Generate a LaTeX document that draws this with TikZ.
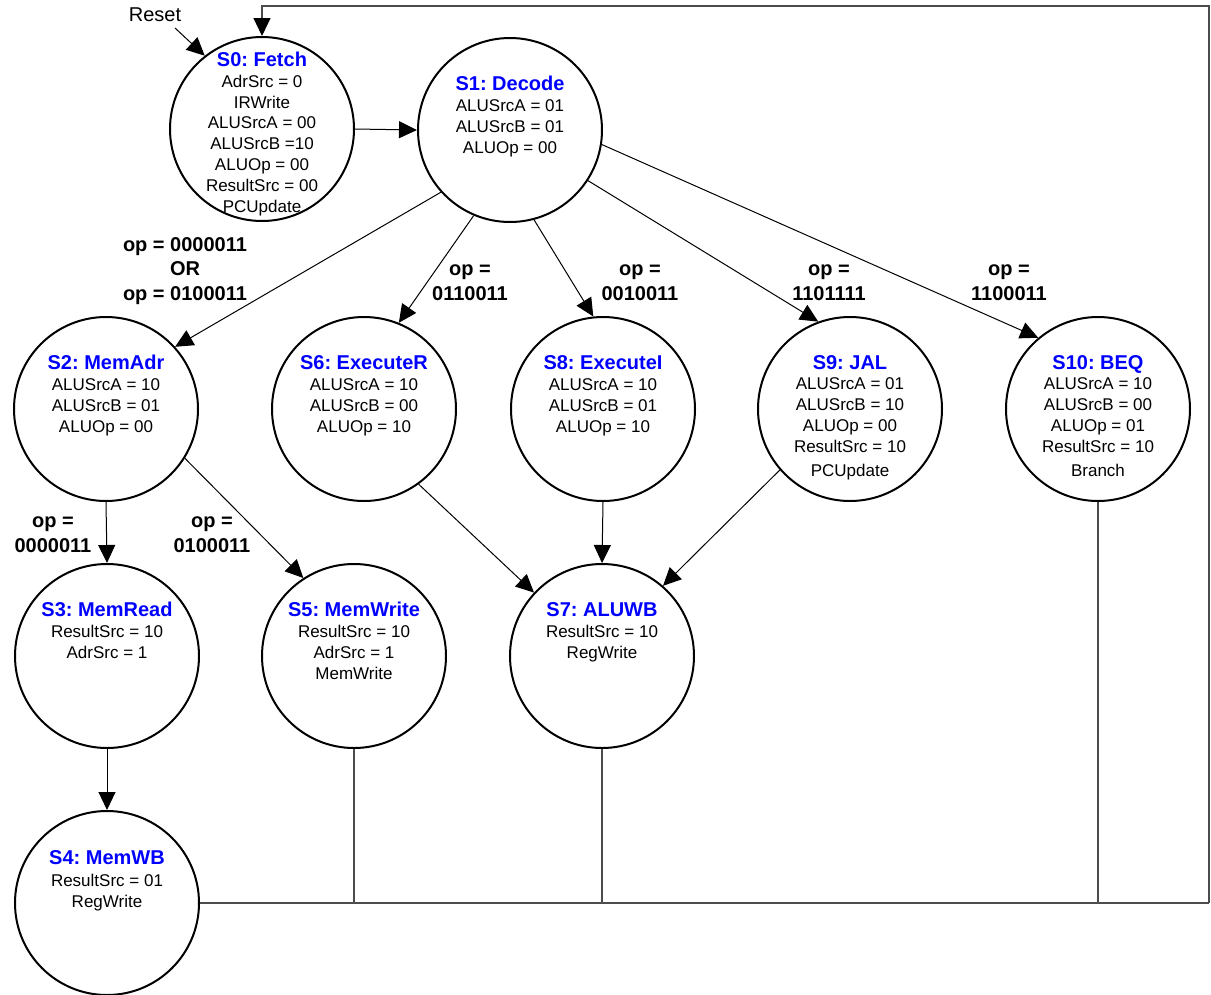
\documentclass[tikz,border=0pt]{standalone}
\usepackage{fontspec}
\setmainfont{Liberation Sans}
\usetikzlibrary{arrows.meta,calc}
\frenchspacing
\begin{document}
\begin{tikzpicture}[x=1pt,y=-1pt,
 stc/.style={circle,draw,line width=2pt,minimum size=184pt,inner sep=0pt},
 ttl/.style={font=\fontsize{20}{24}\selectfont\bfseries,text=blue,inner sep=0pt,anchor=base},
 bdy/.style={font=\fontsize{17}{20.8}\selectfont,align=center,inner sep=0pt,anchor=base},
 lbl/.style={font=\fontsize{20}{24.5}\selectfont\bfseries,align=center,inner sep=0pt,anchor=base},
 conn/.style={line width=1pt,-{Triangle[length=18pt,width=17pt]}},
 bus/.style={line width=1.2pt,draw=black!70},
]
\useasboundingbox (0,0) rectangle (1211,994);
\clip (0,0) rectangle (1211,994);

% states (body nodes anchored at the baseline of their last line)
\node[stc] (S0) at (262,129) {};
\node[ttl] (S0t) at (262,66) {S0: Fetch};
\node[bdy] (S0b) at (262,212) {AdrSrc = 0\\IRWrite\\ALUSrcA = 00\\ALUSrcB =10\\ALUOp = 00\\ResultSrc = 00\\PCUpdate};

\node[stc] (S1) at (510,130) {};
\node[ttl] (S1t) at (510,90) {S1: Decode};
\node[bdy] (S1b) at (510,153) {ALUSrcA = 01\\ALUSrcB = 01\\ALUOp = 00};

\node[stc] (S2) at (106,409) {};
\node[ttl] (S2t) at (106,369) {S2: MemAdr};
\node[bdy] (S2b) at (106,432) {ALUSrcA = 10\\ALUSrcB = 01\\ALUOp = 00};

\node[stc] (S6) at (364,409) {};
\node[ttl] (S6t) at (364,369) {S6: ExecuteR};
\node[bdy] (S6b) at (364,432) {ALUSrcA = 10\\ALUSrcB = 00\\ALUOp = 10};

\node[stc] (S8) at (603,409) {};
\node[ttl] (S8t) at (603,369) {S8: ExecuteI};
\node[bdy] (S8b) at (603,432) {ALUSrcA = 10\\ALUSrcB = 01\\ALUOp = 10};

\node[stc] (S9) at (850,409) {};
\node[ttl] (S9t) at (850,369) {S9: JAL};
\node[bdy] (S9b) at (850,476) {ALUSrcA = 01\\ALUSrcB = 10\\ALUOp = 00\\ResultSrc = 10\\[3pt]PCUpdate};

\node[stc] (S10) at (1098,409) {};
\node[ttl] (S10t) at (1098,369) {S10: BEQ};
\node[bdy] (S10b) at (1098,476) {ALUSrcA = 10\\ALUSrcB = 00\\ALUOp = 01\\ResultSrc = 10\\[3pt]Branch};

\node[stc] (S3) at (107,656) {};
\node[ttl] (S3t) at (107,616) {S3: MemRead};
\node[bdy] (S3b) at (107,658) {ResultSrc = 10\\AdrSrc = 1};

\node[stc] (S5) at (354,656) {};
\node[ttl] (S5t) at (354,616) {S5: MemWrite};
\node[bdy] (S5b) at (354,679) {ResultSrc = 10\\AdrSrc = 1\\MemWrite};

\node[stc] (S7) at (602,656) {};
\node[ttl] (S7t) at (602,616) {S7: ALUWB};
\node[bdy] (S7b) at (602,658) {ResultSrc = 10\\RegWrite};

\node[stc] (S4) at (107,903) {};
\node[ttl] (S4t) at (107,864) {S4: MemWB};
\node[bdy] (S4b) at (107,907) {ResultSrc = 01\\RegWrite};

% reset
\node[font=\fontsize{20}{24}\selectfont,inner sep=0pt,anchor=base] (reset) at (155,21) {Reset};
\coordinate (rst) at (175,28);
\draw[conn] (rst) -- (S0.128);

% transitions
\draw[conn] (S0.east) -- (S1.west);
\draw[conn] (S1.222) -- (S2.42);
\draw[conn] (S1.247) -- (S6.68);
\draw[conn] (S1.285) -- (S8.96);
\draw[conn] (S1.327) -- (S9.110);
\draw[conn] (S1.351) -- (S10.130);
\draw[conn] (S2.south) -- (S3.north);
\draw[conn] (S2.328) -- (S5.123);
\draw[conn] (S3.south) -- (S4.north);
\draw[conn] (S6.306) -- (S7.137);
\draw[conn] (S8.south) -- (S7.north);
\draw[conn] (S9.221) -- (S7.49);

% labels (anchored at the baseline of their last line)
\node[lbl] (l2) at (185,300) {op = 0000011\\OR\\op = 0100011};
\node[lbl] (l6) at (470,300) {op =\\0110011};
\node[lbl] (l8) at (640,300) {op =\\0010011};
\node[lbl] (l9) at (829,300) {op =\\1101111};
\node[lbl] (l10) at (1009,300) {op =\\1100011};
\node[lbl] (l3) at (53,552) {op =\\0000011};
\node[lbl] (l5) at (212,552) {op =\\0100011};

% return bus
\coordinate (br) at (1209,903);
\coordinate (tr) at (1209,6);
\draw[bus] (S4.east) -- (br);
\draw[bus] (S5.south) -- (S5.south |- br);
\draw[bus] (S7.south) -- (S7.south |- br);
\draw[bus] (S10.south) -- (S10.south |- br);
\draw[bus,-{Triangle[length=18pt,width=17pt,color=black]}] (br) -- (tr) -| (S0.north);
\end{tikzpicture}
\end{document}
